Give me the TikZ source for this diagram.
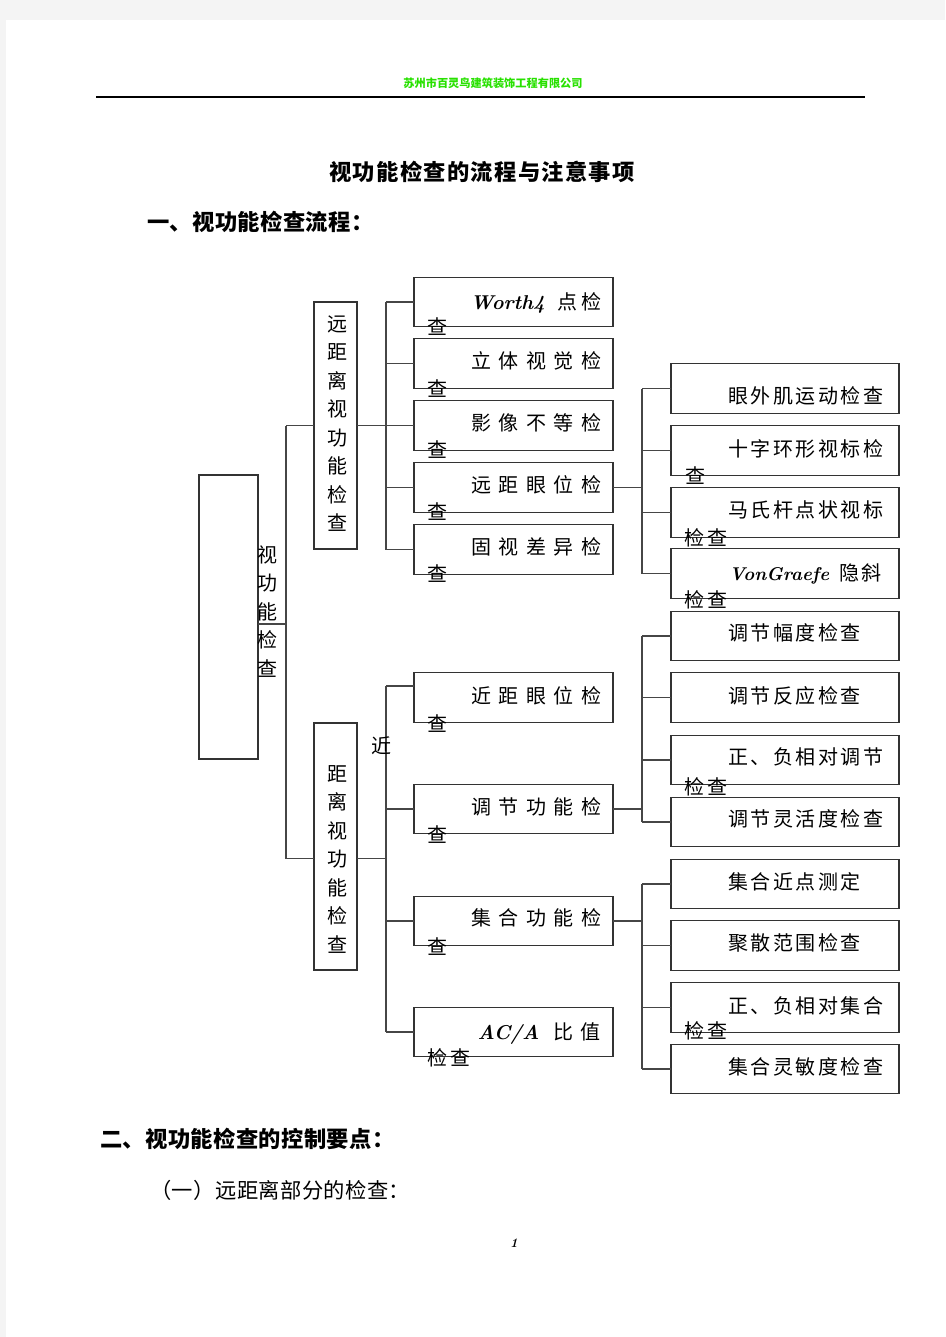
\documentclass[tikz,border=0pt]{standalone}
\usepackage{fontspec}
\newfontfamily\cjk{Noto Sans CJK SC}
\usetikzlibrary{calc}
\definecolor{pagegray}{RGB}{244,244,244}
\definecolor{hdrgreen}{RGB}{40,225,0}
\definecolor{linegray}{RGB}{70,70,70}
\makeatletter
\newcommand\trk[2]{\def\trk@gap{#1}\trk@a#2\relax}
\def\trk@a#1{\ifx#1\relax\else#1\expandafter\trk@b\fi}
\def\trk@b#1{\ifx#1\relax\else\hspace{\trk@gap}#1\expandafter\trk@b\fi}
\makeatother
\newcommand\lat[1]{{\rmfamily\bfseries\itshape #1}}
\newcommand\latsm[1]{{\rmfamily\bfseries\itshape\fontsize{18.5}{22}\selectfont #1}}
\tikzset{
  boxst/.style={draw=black!80, line width=1.3pt, inner sep=0pt, outer sep=0pt},
  conn/.style={draw=linegray, line width=1.3pt},
  txt/.style={inner sep=0pt, outer sep=0pt, text height=17pt, text depth=3pt, font=\cjk\fontsize{20}{24}\selectfont},
  vtxt/.style={inner sep=0pt, outer sep=0pt, align=center, font=\cjk\fontsize{20}{28.5}\selectfont},
  head/.style={inner sep=0pt, outer sep=0pt, font=\cjk\bfseries\fontsize{22.3}{26}\selectfont},
}
\newcommand\mkbox[5]{\node[boxst, minimum width=#4pt, minimum height=#5pt] (#1) at (#2,#3) {};}
\begin{document}
\begin{tikzpicture}[x=1pt,y=-1pt]
\useasboundingbox (0,0) rectangle (945,1337);
\fill[pagegray] (0,0) rectangle (945,1337);
\fill[white] (6,20) rectangle (945,1337);

% header
\node[inner sep=0pt, font=\cjk\bfseries\fontsize{11.2}{13}\selectfont, text=hdrgreen] (hdr) at (493,83) {苏州市百灵鸟建筑装饰工程有限公司};
\draw[line width=1.5pt, black] (96,97) -- (865,97);

% headings
\node[head] (title) at (482,172) {\trk{1.3pt}{视功能检查的流程与注意事项}};
\node[head, anchor=west] (sec1) at (147,222) {\trk{0.4pt}{一、视功能检查流程：}};
\node[head, anchor=west] (sec2) at (100,1139) {\trk{0.4pt}{二、视功能检查的控制要点：}};
\node[inner sep=0pt, anchor=west, font=\cjk\fontsize{21.3}{25}\selectfont] (sub1) at (150,1190) {\trk{0.4pt}{（一）远距离部分的检查：}};
\node[inner sep=0pt, font=\rmfamily\bfseries\itshape\fontsize{13}{15}\selectfont] (pg) at (514,1243) {1};

% boxes
\mkbox{big}{228.5}{617}{59}{284}
\mkbox{far}{335.5}{425.5}{43}{247}
\mkbox{near}{335.5}{846.5}{43}{247}
\mkbox{m1}{513.5}{302}{199}{49.5}
\mkbox{m2}{513.5}{363.5}{199}{49.5}
\mkbox{m3}{513.5}{425.5}{199}{49.5}
\mkbox{m4}{513.5}{487.5}{199}{49.5}
\mkbox{m5}{513.5}{549.5}{199}{49.5}
\mkbox{n1}{513.5}{697.5}{199}{49.5}
\mkbox{n2}{513.5}{809}{199}{49.5}
\mkbox{n3}{513.5}{921}{199}{49.5}
\mkbox{n4}{513.5}{1032}{199}{49.5}
\mkbox{r1}{785}{388.5}{228}{49.5}
\mkbox{r2}{785}{450.5}{228}{49.5}
\mkbox{r3}{785}{512.5}{228}{49.5}
\mkbox{r4}{785}{573.5}{228}{49.5}
\mkbox{r5}{785}{636}{228}{49.5}
\mkbox{r6}{785}{697.5}{228}{49.5}
\mkbox{r7}{785}{760}{228}{49.5}
\mkbox{r8}{785}{822}{228}{49.5}
\mkbox{r9}{785}{884}{228}{49.5}
\mkbox{r10}{785}{945.5}{228}{49.5}
\mkbox{r11}{785}{1007.5}{228}{49.5}
\mkbox{r12}{785}{1069}{228}{49.5}

% connectors: root
\path (big.east) ++(0,7) coordinate (bs);
\path (bs) ++(28,0) coordinate (bt);
\path (near.west) ++(0,12) coordinate (ns);
\draw[conn] (bs) -- (bt);
\draw[conn] (bt |- far.west) -- (bt |- ns);
\draw[conn] (bt |- far.west) -- (far.west);
\draw[conn] (bt |- ns) -- (ns);

% far group
\path (far.east) ++(29,0) coordinate (fj);
\draw[conn] (far.east) -- (fj);
\draw[conn] (fj |- m1.west) -- (fj |- m5.west);
\foreach \i in {1,...,5} \draw[conn] (fj |- m\i.west) -- (m\i.west);

% near group
\path (near.east) ++(0,12) coordinate (ne);
\path (ne) ++(29,0) coordinate (nj);
\path (n1.west) ++(0,-11.5) coordinate (n1b);
\draw[conn] (ne) -- (nj);
\draw[conn] (nj |- n1b) -- (nj |- n4.west);
\draw[conn] (nj |- n1b) -- (n1b);
\foreach \i in {2,3,4} \draw[conn] (nj |- n\i.west) -- (n\i.west);

% right groups
\path (m4.east) ++(29,0) coordinate (rj1);
\draw[conn] (m4.east) -- (rj1);
\draw[conn] (rj1 |- r1.west) -- (rj1 |- r4.west);
\foreach \i in {1,...,4} \draw[conn] (rj1 |- r\i.west) -- (r\i.west);

\path (n2.east) ++(29,0) coordinate (rj2);
\draw[conn] (n2.east) -- (rj2);
\draw[conn] (rj2 |- r5.west) -- (rj2 |- r8.west);
\foreach \i in {5,...,8} \draw[conn] (rj2 |- r\i.west) -- (r\i.west);

\path (n3.east) ++(29,0) coordinate (rj3);
\draw[conn] (n3.east) -- (rj3);
\draw[conn] (rj3 |- r9.west) -- (rj3 |- r12.west);
\foreach \i in {9,...,12} \draw[conn] (rj3 |- r\i.west) -- (r\i.west);

% vertical texts
\node[vtxt] (bigT) at (267,611.5) {视\\功\\能\\检\\查};
\node[vtxt] (farT) at (337,423.5) {远\\距\\离\\视\\功\\能\\检\\查};
\node[vtxt] (nearT) at (337,859) {距\\离\\视\\功\\能\\检\\查};
\node[txt] (jin) at (381,746) {近};

% middle texts
\node[txt, anchor=east] (m1a) at (601,302) {\lat{Worth4}\hspace{12pt}点\hspace{4pt}检};
\node[txt] (m1b) at (437,327) {查};
\node[txt, anchor=east] (m2a) at (601,361) {\trk{7.5pt}{立体视觉检}};
\node[txt] (m2b) at (437,389) {查};
\node[txt, anchor=east] (m3a) at (601,423) {\trk{7.5pt}{影像不等检}};
\node[txt] (m3b) at (437,450) {查};
\node[txt, anchor=east] (m4a) at (601,485) {\trk{7.5pt}{远距眼位检}};
\node[txt] (m4b) at (437,512) {查};
\node[txt, anchor=east] (m5a) at (601,547) {\trk{7.5pt}{固视差异检}};
\node[txt] (m5b) at (437,574) {查};
\node[txt, anchor=east] (n1a) at (601,696) {\trk{7.5pt}{近距眼位检}};
\node[txt] (n1c) at (437,724) {查};
\node[txt, anchor=east] (n2a) at (601,807) {\trk{7.5pt}{调节功能检}};
\node[txt] (n2c) at (437,835) {查};
\node[txt, anchor=east] (n3a) at (601,918) {\trk{7.5pt}{集合功能检}};
\node[txt] (n3c) at (437,947) {查};
\node[txt, anchor=east] (n4a) at (601,1032) {\lat{AC/A}\hspace{14pt}比\hspace{7.5pt}值};
\node[txt] (n4c) at (449,1058) {\trk{3pt}{检查}};

% right texts
\node[txt, anchor=west] (r1a) at (728,396) {\trk{2.5pt}{眼外肌运动检查}};
\node[txt, anchor=west] (r2a) at (728,449) {\trk{2.5pt}{十字环形视标检}};
\node[txt] (r2b) at (695,476) {查};
\node[txt, anchor=west] (r3a) at (728,510) {\trk{2.5pt}{马氏杆点状视标}};
\node[txt] (r3b) at (706,538) {\trk{3pt}{检查}};
\node[txt, anchor=west] (r4a) at (729,573) {\latsm{VonGraefe}\hspace{10pt}隐\hspace{2pt}斜};
\node[txt] (r4b) at (706,600) {\trk{3pt}{检查}};
\node[txt, anchor=west] (r5a) at (728,633) {\trk{2.5pt}{调节幅度检查}};
\node[txt, anchor=west] (r6a) at (728,696) {\trk{2.5pt}{调节反应检查}};
\node[txt, anchor=west] (r7a) at (728,757) {\trk{2.5pt}{正、负相对调节}};
\node[txt] (r7b) at (706,787) {\trk{3pt}{检查}};
\node[txt, anchor=west] (r8a) at (728,819) {\trk{2.5pt}{调节灵活度检查}};
\node[txt, anchor=west] (r9a) at (728,882) {\trk{2.5pt}{集合近点测定}};
\node[txt, anchor=west] (r10a) at (728,943) {\trk{2.5pt}{聚散范围检查}};
\node[txt, anchor=west] (r11a) at (728,1006) {\trk{2.5pt}{正、负相对集合}};
\node[txt] (r11b) at (706,1031) {\trk{3pt}{检查}};
\node[txt, anchor=west] (r12a) at (728,1067) {\trk{2.5pt}{集合灵敏度检查}};
\end{tikzpicture}
\end{document}
